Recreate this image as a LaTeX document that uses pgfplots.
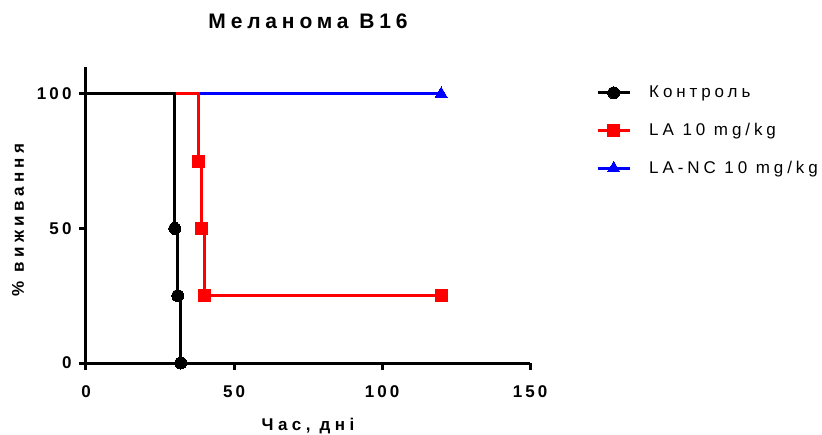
\documentclass[border=0pt]{standalone}
\usepackage{fontspec}
\usepackage{pgfplots}
\pgfplotsset{compat=1.18}
\setmainfont{Liberation Sans}
\newfontfamily\titlefont{Liberation Sans}[LetterSpace=23]
\newfontfamily\tickfont{Liberation Sans}[LetterSpace=18]
\newfontfamily\labfont{Liberation Sans}[LetterSpace=26]
\newfontfamily\legfont{Liberation Sans}[LetterSpace=23]
\begin{document}
\begin{tikzpicture}
\useasboundingbox (-86pt,-71pt) rectangle (736pt,363pt);
\begin{axis}[
  scale only axis,
  width=444pt, height=296pt,
  xmin=0, xmax=150, ymin=0, ymax=110,
  axis x line*=bottom, axis y line*=left,
  axis line style={line width=3pt, -},
  xtick={0,50,100,150}, ytick={0,50,100},
  tick align=outside, major tick length=7pt,
  tick style={line width=3pt, black},
  /pgf/number format/assume math mode=true,
  tick label style={font=\tickfont\bfseries\fontsize{17}{20}\selectfont},
  xticklabel style={yshift=-12pt},
  yticklabel style={xshift=-4pt},
  clip=false,
  title={\titlefont\bfseries\fontsize{21}{25}\selectfont Меланома В16},
  title style={at={(axis description cs:0.5,1)}, anchor=center, yshift=40pt},
  xlabel={\labfont\bfseries\fontsize{17}{20}\selectfont Час, дні},
  xlabel style={at={(axis description cs:0.5,0)}, anchor=center, yshift=-63pt},
  ylabel={\labfont\bfseries\fontsize{17}{20}\selectfont \% виживання},
  ylabel style={at={(axis description cs:-0.153,0.483)}, anchor=center},
  legend style={draw=none, fill=none, at={(axis description cs:1,1)}, anchor=north west,
    xshift=66pt, yshift=-19pt, font=\legfont\fontsize{17}{20}\selectfont,
    row sep=24pt, inner sep=0pt, nodes={inner sep=0pt, anchor=west},
    /tikz/every odd column/.append style={column sep=18pt}},
  legend cell align=left,
  legend image code/.code={\draw[#1, /tikz/sharp plot, mark repeat=2, mark phase=2] plot coordinates {(0pt,0pt)(16pt,0pt)(32pt,0pt)};},
]
% lines (blue below red below black)
\addplot[const plot, blue, line width=3pt, forget plot] coordinates {(0,100) (120,100)};
\addplot[const plot, red, line width=3pt, forget plot] coordinates {(0,100) (38,75) (39,50) (40,25) (120,25)};
\addplot[const plot, black, line width=3pt, forget plot] coordinates {(0,100) (30,50) (31,25) (32,0)};
% marks
\addplot[only marks, black, line width=3pt, mark=*, mark size=6pt, mark options={solid, line width=0pt}] coordinates {(30,50) (31,25) (32,0)};
\addlegendentry{Контроль}
\addplot[only marks, red, line width=3pt, mark=square*, mark size=6pt, mark options={solid, line width=0pt}] coordinates {(38,75) (39,50) (40,25) (120,25)};
\addlegendentry{LA 10 mg/kg}
\addplot[only marks, blue, line width=3pt, mark=triangle*, mark size=7pt, mark options={solid, line width=0pt}] coordinates {(120,100)};
\addlegendentry{LA-NC 10 mg/kg}
\end{axis}
\end{tikzpicture}
\end{document}
